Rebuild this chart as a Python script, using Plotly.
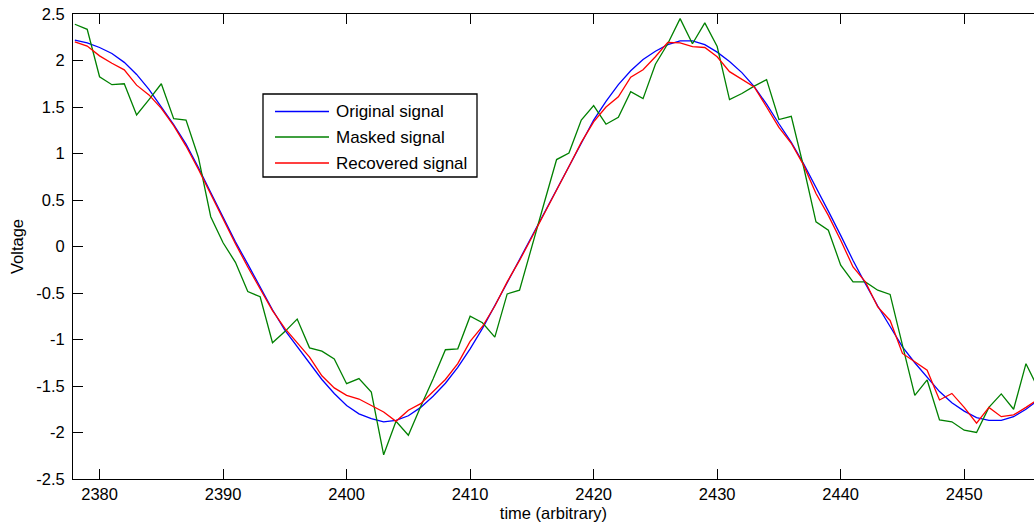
import plotly.graph_objects as go

# Sample times (one sample per time unit)
t_start, t_end = 2378, 2456
time = list(range(t_start, t_end + 1))

original = [
    2.22, 2.19, 2.14, 2.075, 1.98, 1.85, 1.69, 1.50, 1.31, 1.10,
    0.85, 0.58, 0.31, 0.05, -0.19, -0.43, -0.68, -0.90, -1.08, -1.26,
    -1.43, -1.58, -1.71, -1.80, -1.85, -1.885, -1.87, -1.82, -1.73, -1.61,
    -1.47, -1.30, -1.10, -0.88, -0.64, -0.39, -0.14, 0.11, 0.36, 0.62,
    0.87, 1.12, 1.36, 1.56, 1.74, 1.89, 2.01, 2.10, 2.17, 2.21,
    2.21, 2.17, 2.09, 1.99, 1.87, 1.72, 1.53, 1.32, 1.12, 0.89,
    0.64, 0.38, 0.12, -0.15, -0.40, -0.64, -0.86, -1.08, -1.25, -1.41,
    -1.56, -1.68, -1.77, -1.84, -1.87, -1.87, -1.83, -1.75, -1.65,
]

masked = [
    2.39, 2.335, 1.825, 1.74, 1.75, 1.415, 1.58, 1.75, 1.375, 1.36,
    0.96, 0.32, 0.04, -0.17, -0.485, -0.54, -1.035, -0.915, -0.78, -1.09,
    -1.125, -1.21, -1.475, -1.42, -1.565, -2.24, -1.88, -2.03, -1.72, -1.425,
    -1.11, -1.10, -0.75, -0.82, -0.975, -0.51, -0.47, 0.01, 0.47, 0.935,
    1.005, 1.36, 1.515, 1.315, 1.39, 1.665, 1.59, 1.96, 2.18, 2.45,
    2.18, 2.405, 2.15, 1.58, 1.645, 1.725, 1.795, 1.365, 1.40, 0.855,
    0.265, 0.175, -0.20, -0.38, -0.38, -0.47, -0.515, -1.06, -1.60, -1.435,
    -1.865, -1.885, -1.975, -2.00, -1.73, -1.585, -1.75, -1.26, -1.53,
]

recovered = [
    2.20, 2.155, 2.05, 1.97, 1.90, 1.735, 1.63, 1.485, 1.30, 1.08,
    0.83, 0.56, 0.29, 0.03, -0.22, -0.45, -0.69, -0.88, -1.03, -1.19,
    -1.39, -1.52, -1.60, -1.64, -1.71, -1.78, -1.88, -1.76, -1.69, -1.56,
    -1.43, -1.26, -1.02, -0.86, -0.64, -0.38, -0.15, 0.10, 0.35, 0.61,
    0.86, 1.12, 1.34, 1.50, 1.61, 1.82, 1.90, 2.04, 2.195, 2.19,
    2.15, 2.14, 2.04, 1.88, 1.795, 1.715, 1.50, 1.28, 1.11, 0.875,
    0.57, 0.335, 0.067, -0.22, -0.38, -0.65, -0.795, -1.15, -1.24, -1.33,
    -1.65, -1.58, -1.73, -1.90, -1.73, -1.83, -1.81, -1.73, -1.64,
]

series_names = ["Original signal", "Masked signal", "Recovered signal"]
series_colors = ["#0000ff", "#008000", "#ff0000"]

x_ticks = [2380, 2390, 2400, 2410, 2420, 2430, 2440, 2450]
x_tick_labels = ["2380", "2390", "2400", "2410", "2420", "2430", "2440", "2450"]
y_ticks = [2.5, 2, 1.5, 1, 0.5, 0, -0.5, -1, -1.5, -2, -2.5]
y_tick_labels = ["2.5", "2", "1.5", "1", "0.5", "0", "-0.5", "-1", "-1.5", "-2", "-2.5"]

FONT = "Arial, 'Liberation Sans', Helvetica, sans-serif"
W, H = 1034, 529
M_L, M_R, M_T, M_B = 73, 0, 14, 50

fig = go.Figure()
for name, color, values in zip(series_names, series_colors, [original, masked, recovered]):
    fig.add_trace(go.Scatter(
        x=time, y=values, mode="lines", name=name,
        line=dict(color=color, width=1.3), hoverinfo="skip",
    ))

# Boxed legend drawn in the upper-left part of the axes
plot_w = W - M_L - M_R
plot_h = H - M_T - M_B


def px_x(px):
    return (px - M_L) / plot_w


def px_y(py):
    return (H - M_B - py) / plot_h


shapes = [dict(
    type="rect", xref="paper", yref="paper",
    x0=px_x(263), x1=px_x(477), y0=px_y(177), y1=px_y(94),
    line=dict(color="black", width=1.3), fillcolor="white", layer="above",
)]
annotations = []
row_y = [111.5, 137, 163]
for name, color, ry in zip(series_names, series_colors, row_y):
    shapes.append(dict(
        type="line", xref="paper", yref="paper",
        x0=px_x(275), x1=px_x(329), y0=px_y(ry), y1=px_y(ry),
        line=dict(color=color, width=1.3), layer="above",
    ))
    annotations.append(dict(
        xref="paper", yref="paper", x=px_x(334), y=px_y(ry),
        xanchor="left", yanchor="middle", text=name, showarrow=False,
        font=dict(family=FONT, size=17, color="black"),
    ))

fig.update_layout(
    width=W, height=H,
    margin=dict(l=M_L, r=M_R, t=M_T, b=M_B, pad=0),
    paper_bgcolor="white", plot_bgcolor="white",
    showlegend=False,
    font=dict(family=FONT, size=16.5, color="black"),
    shapes=shapes, annotations=annotations,
    xaxis=dict(
        range=[2377.85, 2455.65], tickvals=x_ticks, ticktext=x_tick_labels,
        ticks="inside", ticklen=10, tickwidth=1, tickcolor="black",
        showline=True, linecolor="black", linewidth=1, mirror="ticks",
        showgrid=False, zeroline=False,
        title=dict(text="time (arbitrary)", standoff=5, font=dict(size=16.5)),
    ),
    yaxis=dict(
        range=[-2.5, 2.5], tickvals=y_ticks, ticktext=y_tick_labels,
        ticks="inside", ticklen=10, tickwidth=1, tickcolor="black",
        showline=True, linecolor="black", linewidth=1, mirror=False,
        showgrid=False, zeroline=False, ticklabelstandoff=4,
        title=dict(text="Voltage", standoff=8, font=dict(size=16.5)),
    ),
    yaxis2=dict(
        overlaying="y", side="right", anchor="x",
        range=[-2.5, 2.5], tickvals=y_ticks,
        ticks="inside", ticklen=5, tickwidth=1, tickcolor="black",
        showticklabels=False, showline=False, showgrid=False, zeroline=False,
    ),
)

fig.write_html("out.html")
